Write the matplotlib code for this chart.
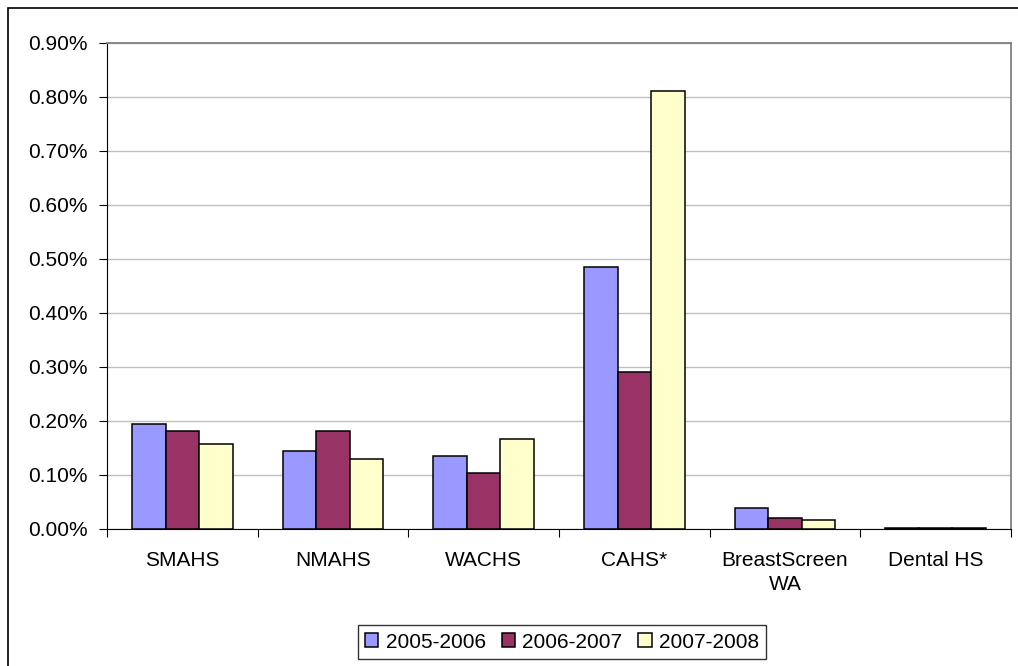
import matplotlib
matplotlib.use("Agg")
import matplotlib.pyplot as plt
import numpy as np
from matplotlib.patches import Rectangle
from matplotlib.ticker import FuncFormatter, MultipleLocator

plt.rcParams["font.family"] = ["Liberation Sans", "DejaVu Sans"]

categories = ["SMAHS", "NMAHS", "WACHS", "CAHS*", "BreastScreen\nWA", "Dental HS"]
series_labels = ["2005-2006", "2006-2007", "2007-2008"]
valeurs_2005_2006 = [0.194, 0.145, 0.135, 0.486, 0.039, 0.002]
valeurs_2006_2007 = [0.181, 0.181, 0.103, 0.290, 0.020, 0.002]
valeurs_2007_2008 = [0.157, 0.130, 0.166, 0.811, 0.017, 0.002]
couleurs = ["#9999FF", "#993366", "#FFFFCC"]

W, H = 1018, 666
TAILLE = 15
fig = plt.figure(figsize=(W / 100, H / 100), dpi=100)
fig.patch.set_facecolor("white")

# cadre exterieur (coupe a droite et en bas dans l'original)
fig.patches.append(Rectangle((8 / W, -0.05), 1.1, 1 - 8 / H + 0.05,
                             transform=fig.transFigure, fill=False,
                             edgecolor="black", linewidth=1.2))

ax = fig.add_axes([107 / W, 1 - 529 / H, (1011 - 107) / W, (529 - 43) / H])

x = np.arange(len(categories))
largeur = 0.222
series = [valeurs_2005_2006, valeurs_2006_2007, valeurs_2007_2008]
for i, (vals, coul, lab) in enumerate(zip(series, couleurs, series_labels)):
    ax.bar(x + (i - 1) * largeur, vals, width=largeur, color=coul,
           edgecolor="black", linewidth=1.1, label=lab, zorder=3)

ax.set_xlim(-0.5, len(categories) - 0.5)
ax.set_ylim(0, 0.9)
ax.yaxis.set_major_locator(MultipleLocator(0.1))
ax.yaxis.set_major_formatter(FuncFormatter(lambda v, p: f"{v:.2f}%"))
ax.grid(axis="y", color="#c0c0c0", linewidth=1, zorder=0)

ax.set_xticks(np.arange(len(categories) + 1) - 0.5, minor=False)
ax.set_xticklabels([])
ax.set_xticks(x, minor=True)
ax.set_xticklabels(categories, minor=True, fontsize=TAILLE, linespacing=1.35)
ax.tick_params(axis="x", which="minor", length=0, pad=16)
ax.tick_params(axis="x", which="major", length=6, direction="out", color="black")
ax.tick_params(axis="y", length=6, direction="out", labelsize=TAILLE, pad=8)

for cote in ["top", "right"]:
    ax.spines[cote].set_color("#808080")
    ax.spines[cote].set_linewidth(1.3)
ax.spines["left"].set_color("black")
ax.spines["bottom"].set_color("black")

leg = fig.legend(loc="center", bbox_to_anchor=(562 / W, 1 - 642 / H), ncol=3,
                 fontsize=TAILLE, frameon=True, fancybox=False, edgecolor="black",
                 handlelength=0.65, handleheight=0.65, handletextpad=0.35,
                 columnspacing=0.75, borderpad=0.35, borderaxespad=0)
leg.get_frame().set_linewidth(1)

fig.savefig("out.png", dpi=100)
